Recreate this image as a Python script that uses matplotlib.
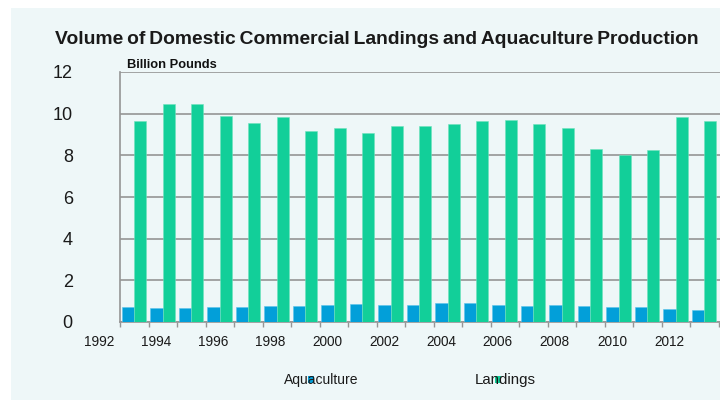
import matplotlib.pyplot as plt
from matplotlib.patches import Rectangle
from matplotlib.transforms import blended_transform_factory

plt.rcParams['font.family'] = ['Liberation Sans', 'DejaVu Sans']

years = list(range(1993, 2014))
aquaculture = [0.70, 0.68, 0.66, 0.70, 0.70, 0.76, 0.79, 0.82, 0.86, 0.82, 0.84,
               0.92, 0.89, 0.82, 0.79, 0.82, 0.78, 0.73, 0.74, 0.63, 0.59]
landings = [9.65, 10.47, 10.47, 9.89, 9.57, 9.82, 9.18, 9.33, 9.07, 9.42, 9.39,
            9.50, 9.65, 9.70, 9.49, 9.31, 8.32, 8.02, 8.24, 9.84, 9.63]
year_labels = list(range(1992, 2013, 2))
y_ticks = [0, 2, 4, 6, 8, 10, 12]
title = "Volume of Domestic Commercial Landings and Aquaculture Production"

aqua_color = "#029fd9"
land_color = "#12cf99"
panel = "#eef7f8"
grid_color = "#959595"

fig = plt.figure(figsize=(7.2, 4), dpi=100)
fig.patch.set_facecolor("white")
fig.add_artist(Rectangle((11 / 720, 0), 1, 1 - 8 / 400, transform=fig.transFigure,
                         facecolor=panel, edgecolor="none", zorder=-10))

ax = fig.add_axes([120 / 720, 1 - 322 / 400, 602 / 720, 250 / 400])
ax.set_facecolor(panel)

w = 0.43
ax.bar([v - 0.22 for v in years], aquaculture, width=w, color=aqua_color,
       edgecolor="#5cc4ea", linewidth=0.4, zorder=3)
ax.bar([v + 0.21 for v in years], landings, width=w, color=land_color,
       edgecolor="#6fe3bd", linewidth=0.4, zorder=3)

ax.set_xlim(1992.5, 1992.5 + 602 / 28.5)
ax.set_ylim(0, 12)

# horizontal grid, including the top line at 12
ax.set_yticks(y_ticks)
ax.yaxis.grid(True, color=grid_color, linewidth=1.2, zorder=1)
ax.tick_params(axis="y", length=0, pad=34, labelsize=13, labelcolor="#1a1a1a")

# category boundaries get the tick marks, labels sit between them
ax.set_xticks([y - 0.5 for y in years] + [years[-1] + 0.5])
ax.set_xticklabels([])
ax.tick_params(axis="x", length=3.5, width=1, color=grid_color, direction="out")

trans = blended_transform_factory(ax.transData, ax.transAxes)
for yr in year_labels:
    ax.text(yr - 0.24, -0.08, str(yr), transform=trans, ha="center", va="center",
            fontsize=9.8, color="#1a1a1a", clip_on=False)

for side in ["top", "right"]:
    ax.spines[side].set_visible(False)
for side in ["left", "bottom"]:
    ax.spines[side].set_color(grid_color)
    ax.spines[side].set_linewidth(1.2)

# title with tight word spacing, sized to run from x=55 to x=700
t = fig.text(55 / 720, 1 - 40 / 400, title.replace(" ", "\u2009"),
             ha="left", va="center", fontsize=14, fontweight="bold", color="#1a1a1a")
renderer = fig.canvas.get_renderer()
width_px = t.get_window_extent(renderer).width
t.set_fontsize(14 * 645 / width_px)

fig.text(127 / 720, 1 - 65 / 400, "Billion Pounds", ha="left", va="center",
         fontsize=9.3, fontweight="bold", color="#111111")

# legend: marker squares sit underneath the label text
fig.add_artist(Rectangle((308 / 720, 1 - 383 / 400), 6 / 720, 7 / 400,
                         transform=fig.transFigure, facecolor=aqua_color,
                         edgecolor="none", zorder=1))
fig.add_artist(Rectangle((495 / 720, 1 - 383 / 400), 6 / 720, 7 / 400,
                         transform=fig.transFigure, facecolor=land_color,
                         edgecolor="none", zorder=1))
fig.text(321 / 720, 1 - 380 / 400, "Aquaculture", ha="center", va="center",
         fontsize=10, color="#1a1a1a", zorder=2)
fig.text(505 / 720, 1 - 380 / 400, "Landings", ha="center", va="center",
         fontsize=10.8, color="#1a1a1a", zorder=2)

fig.savefig("out.png", dpi=100)
